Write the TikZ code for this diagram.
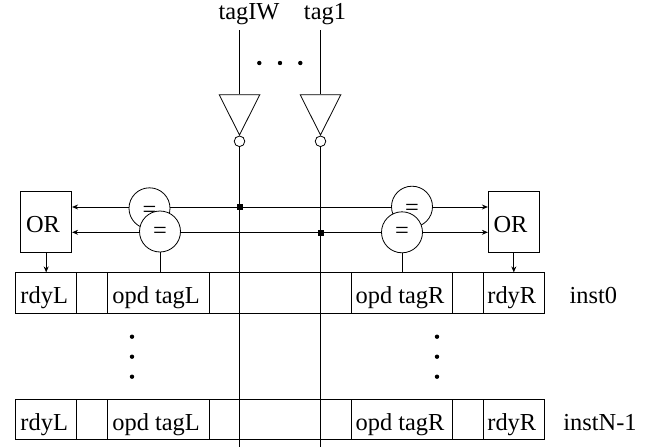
\documentclass[tikz,border=0pt]{standalone}
\usepackage{fontspec}
\setmainfont{Liberation Serif}
\usetikzlibrary{arrows.meta,shapes.geometric}
\tikzset{
  wire/.style={draw,line width=0.8pt},
  arrowwire/.style={wire,-{Stealth[length=6pt,width=5pt,inset=2pt]}},
  bigtext/.style={font=\fontsize{24.4}{28}\selectfont},
  cellbox/.style={draw,line width=0.8pt,bigtext,inner sep=0pt,minimum height=40.4pt,text height=21pt,text depth=0pt,execute at begin node=\kern-4pt},
  instlabel/.style={bigtext,inner sep=0pt,text height=21pt,text depth=0pt},
  orbox/.style={draw,line width=0.8pt,bigtext,inner sep=0pt,inner xsep=5.3pt,minimum height=60.6pt,text width=40.4pt,align=left,text height=20pt,text depth=0pt},
  cmpcircle/.style={draw,circle,fill=white,line width=0.8pt,bigtext,inner sep=0pt,minimum size=41pt,text height=13pt,text depth=0pt},
  invgate/.style={draw,isosceles triangle,isosceles triangle stretches,shape border rotate=-90,line width=0.8pt,inner sep=0pt,minimum width=40.7pt,minimum height=40.3pt,anchor=apex},
  bubble/.style={draw,circle,fill=white,line width=0.8pt,inner sep=0pt,minimum size=10.6pt},
  junction/.style={draw,fill=black,rectangle,inner sep=0pt,minimum size=5pt},
  dotmark/.style={circle,fill=black,inner sep=0pt,minimum size=4.4pt}
}
\begin{document}
\begin{tikzpicture}[x=1pt,y=-1pt]
\useasboundingbox (0,0) rectangle (656,447);

% first instruction row
\node[cellbox,minimum width=61pt] (rdyL0) at (46.2,293) {rdyL};
\node[cellbox,minimum width=30.6pt] (gapL0) at (92,293) {};
\node[cellbox,minimum width=101.7pt] (opdL0) at (158.15,293) {opd tagL};
\node[cellbox,minimum width=142.3pt] (mid0) at (280.15,293) {};
\node[cellbox,minimum width=101.4pt] (opdR0) at (402,293) {opd tagR};
\node[cellbox,minimum width=30.6pt] (gapR0) at (468,293) {};
\node[cellbox,minimum width=61pt] (rdyR0) at (513.8,293) {rdyR};
\node[instlabel] (inst0) at (593.3,293) {inst0};

% last instruction row
\node[cellbox,minimum width=61pt] (rdyL1) at (46.2,419.5) {rdyL};
\node[cellbox,minimum width=30.6pt] (gapL1) at (92,419.5) {};
\node[cellbox,minimum width=101.7pt] (opdL1) at (158.15,419.5) {opd tagL};
\node[cellbox,minimum width=142.3pt] (mid1) at (280.15,419.5) {};
\node[cellbox,minimum width=101.4pt] (opdR1) at (402,419.5) {opd tagR};
\node[cellbox,minimum width=30.6pt] (gapR1) at (468,419.5) {};
\node[cellbox,minimum width=61pt] (rdyR1) at (513.8,419.5) {rdyR};
\node[instlabel] (inst1) at (600,419.5) {instN-1};

% tags and inverters
\node[bigtext] (tagIW) at (249,13.8) {tagIW};
\node[bigtext] (tag1) at (325,13.8) {tag1};
\coordinate (topIW) at (239.5,30);
\coordinate (top1) at (320.5,30);
\coordinate (botIW) at (239.5,447);
\coordinate (bot1) at (320.5,447);
\node[invgate] (invIW) at (239.5,136) {};
\node[invgate] (inv1) at (320.5,136) {};
\node[bubble] (bubIW) at (239.5,141.3) {};
\node[bubble] (bub1) at (320.5,141.3) {};
\node[junction] (juncIW) at (239.5,207) {};
\node[junction] (junc1) at (320.5,232.3) {};

\node[dotmark] (dotA) at (259.3,63) {};
\node[dotmark] (dotB) at (280,63) {};
\node[dotmark] (dotC) at (300.3,63) {};
\node[dotmark] (dotD) at (132,336.7) {};
\node[dotmark] (dotE) at (132,356.7) {};
\node[dotmark] (dotF) at (132,376.7) {};
\node[dotmark] (dotG) at (437,336.7) {};
\node[dotmark] (dotH) at (437,356.7) {};
\node[dotmark] (dotI) at (437,376.7) {};

\node[orbox] (orL) at (46.2,222) {OR};
\node[orbox] (orR) at (513.8,222) {OR};

\path[wire] (topIW) -- (invIW);
\path[wire] (top1) -- (inv1);
\path[wire] (bubIW) -- (botIW);
\path[wire] (bub1) -- (bot1);

\path[arrowwire] (juncIW) -- (orL.east |- juncIW);
\path[arrowwire] (juncIW) -- (orR.west |- juncIW);
\path[arrowwire] (junc1) -- (orL.east |- junc1);
\path[arrowwire] (junc1) -- (orR.west |- junc1);
\path[arrowwire] (orL) -- (orL |- rdyL0.north);
\path[arrowwire] (orR) -- (orR |- rdyR0.north);

% comparators, lower ones on top
\node[cmpcircle,text height=18pt] (cmpLa) at (149.5,208.3) {=};
\node[cmpcircle,text height=18pt] (cmpRa) at (412,206.7) {=};
\node[cmpcircle] (cmpLb) at (160,231.5) {=};
\node[cmpcircle] (cmpRb) at (402,232.3) {=};

\path[wire] (cmpLb) -- (cmpLb |- opdL0.north);
\path[wire] (cmpRb) -- (cmpRb |- opdR0.north);
\end{tikzpicture}
\end{document}
